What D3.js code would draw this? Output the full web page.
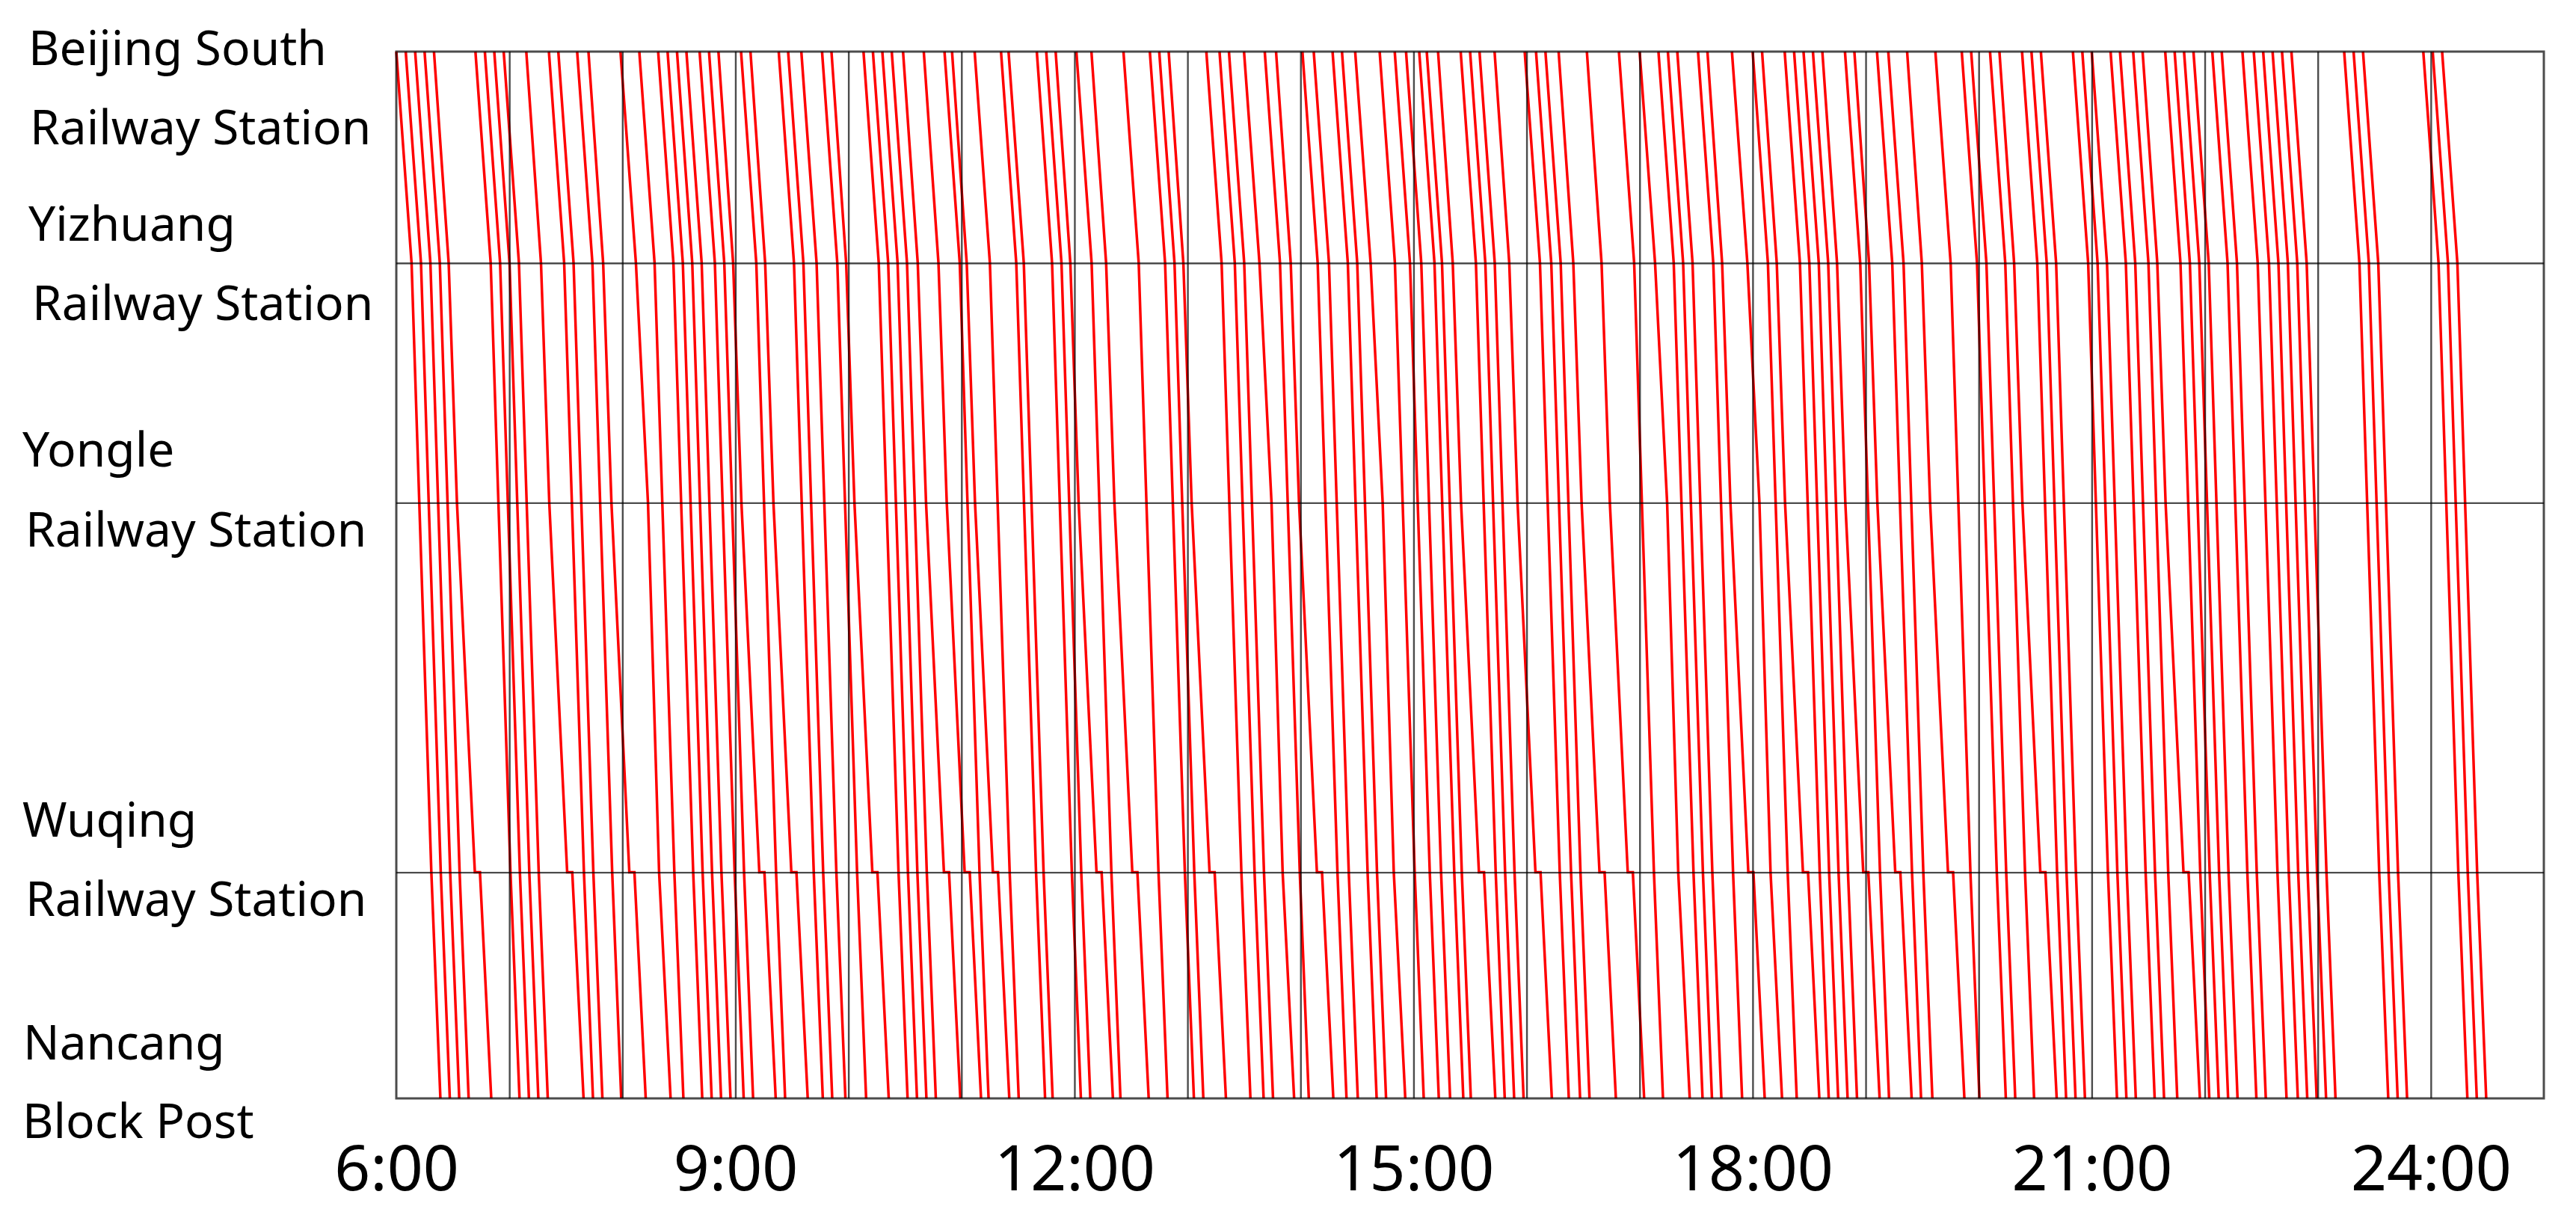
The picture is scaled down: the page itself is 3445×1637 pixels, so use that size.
<!DOCTYPE html>
<html><head><meta charset="utf-8">
<script src="https://cdn.jsdelivr.net/npm/d3@7"></script>
<style>html,body{margin:0;padding:0;background:#fff;} svg{display:block}</style>
</head><body><svg id="chart" width="3445" height="1637"></svg>
<script>
// ---------------- DATA ----------------
const stationNames = [
  ["Beijing South", "Railway Station"],
  ["Yizhuang", "Railway Station"],
  ["Yongle", "Railway Station"],
  ["Wuqing", "Railway Station"],
  ["Nancang", "Block Post"]
];
const stationKm = [0, 20.2, 43.1, 78.4, 100];

// departure times from Beijing South
const departures = [
  "6:00","6:05","6:10","6:15","6:20","6:42","6:47","6:52","6:57","7:09","7:21","7:26","7:36","7:42","7:59",
  "8:09","8:19","8:24","8:29","8:34","8:41","8:46","8:51","9:03","9:08","9:23","9:28","9:35","9:46","9:51",
  "10:08","10:13","10:18","10:23","10:29","10:40","10:51","10:55","11:07","11:21","11:25","11:40","11:45","11:50",
  "12:01","12:09","12:26","12:40","12:45","12:50","13:10","13:17","13:22","13:30","13:41","13:47",
  "14:01","14:07","14:17","14:22","14:29","14:42","14:50","14:56","15:03","15:07","15:13","15:25","15:30",
  "15:35","15:43","15:59","16:05","16:10","16:17","16:32","16:49","17:00","17:10","17:15","17:20","17:31","17:36","17:49",
  "18:00","18:05","18:17","18:22","18:27","18:32","18:37","18:49","18:54","19:06","19:12","19:22","19:37","19:51","19:56",
  "20:06","20:11","20:23","20:28","20:33","20:50","20:55","21:00","21:10","21:15","21:22","21:27","21:39","21:44","21:49","21:54",
  "22:04","22:09","22:20","22:26","22:31","22:36","22:41","22:46","23:14","23:19","23:24","23:56","24:01","24:06"
];
// trains with a stop at Wuqing
const wuqingStopTrains = ["6:20","7:09","7:42","8:51","9:08","9:51","10:29","10:40","10:55","11:50","12:09","12:50",
  "13:47","15:13","15:43","16:17","16:32","17:36","18:05","18:37","18:54","19:22","20:11","21:27"];
// trains with a slower run
const slowTrains = ["7:59","13:30","14:29","17:00","17:49"];

// running minutes after departure at each station
const runNonstop = [0, 8.1, 12.2, 18.6, 23.4];
const runSlow    = [0, 8.2, 14.6, 20.5, 26.6];
const runStopArr = [0, 7.8, 12.2, 21.7, 30.4];   // arrival times
const runStopDep = [0, 7.8, 12.2, 24.4, 30.4];   // departure times (dwell at Wuqing)

const tickValuesH = [6, 9, 12, 15, 18, 21, 24];
const tickLabels  = ["6:00","9:00","12:00","15:00","18:00","21:00","24:00"];

// ---------------- LAYOUT ----------------
const M = {left: 530, right: 3402, top: 69, bottom: 1469};
const labelBaselines = [[87, 193], [322, 428], [624, 731], [1119, 1225], [1417, 1522]];
const labelX = [[38, 40], [38, 43], [30, 34], [30, 34], [31, 30]];

const toMin = s => { const [h, m] = s.split(":").map(Number); return h * 60 + m; };

const svg = d3.select("#chart");
svg.append("rect").attr("width", 3445).attr("height", 1637).attr("fill", "#fff");

const x = d3.scaleLinear().domain([360, 1500]).range([M.left, M.right]);
const y = d3.scaleLinear().domain([0, 100]).range([M.top, M.bottom]);

// trains
const trains = departures.map(d => {
  const t0 = toMin(d);
  let pts;
  if (wuqingStopTrains.includes(d)) {
    pts = [];
    stationKm.forEach((km, i) => {
      pts.push([t0 + runStopArr[i], km]);
      if (runStopDep[i] !== runStopArr[i]) pts.push([t0 + runStopDep[i], km]);
    });
  } else {
    const run = slowTrains.includes(d) ? runSlow : runNonstop;
    pts = stationKm.map((km, i) => [t0 + run[i], km]);
  }
  return pts;
});

const line = d3.line().x(p => x(p[0])).y(p => y(p[1]));
svg.append("g").selectAll("path").data(trains).join("path")
  .attr("d", line).attr("fill", "none").attr("stroke", "#ff0000").attr("stroke-width", 3.5);

// hour grid
const hourTicks = d3.range(7 * 60, 25 * 60, 60);
const gx = svg.append("g").attr("transform", `translate(0,${M.bottom})`)
  .call(d3.axisBottom(x).tickValues(hourTicks).tickSize(-(M.bottom - M.top)).tickFormat(""));
gx.select(".domain").remove();
gx.selectAll(".tick line").attr("stroke", "#000").attr("stroke-opacity", 0.7).attr("stroke-width", 2.4);

// station lines
const gy = svg.append("g").attr("transform", `translate(${M.left},0)`)
  .call(d3.axisLeft(y).tickValues(stationKm.slice(1, -1)).tickSize(-(M.right - M.left)).tickFormat(""));
gy.select(".domain").remove();
gy.selectAll(".tick line").attr("stroke", "#000").attr("stroke-opacity", 0.7).attr("stroke-width", 2.4);

// frame
svg.append("rect").attr("x", M.left).attr("y", M.top)
  .attr("width", M.right - M.left).attr("height", M.bottom - M.top)
  .attr("fill", "none").attr("stroke", "#000").attr("stroke-opacity", 0.7).attr("stroke-width", 3);

// time labels
const ax = svg.append("g").attr("transform", `translate(0,${M.bottom})`)
  .call(d3.axisBottom(x).tickValues(tickValuesH.map(h => h * 60)).tickSize(0).tickPadding(63)
    .tickFormat((d, i) => tickLabels[i]));
ax.select(".domain").remove();
ax.selectAll("text").attr("font-family", "'Noto Sans', 'DejaVu Sans', sans-serif")
  .attr("font-size", 84).attr("fill", "#000");

// station labels
const lab = svg.append("g").attr("font-family", "'Noto Sans', 'DejaVu Sans', sans-serif")
  .attr("font-size", 64).attr("fill", "#000");
stationNames.forEach((lines, i) => {
  lines.forEach((txt, j) => {
    lab.append("text").attr("x", labelX[i][j]).attr("y", labelBaselines[i][j]).text(txt);
  });
});
</script></body></html>
